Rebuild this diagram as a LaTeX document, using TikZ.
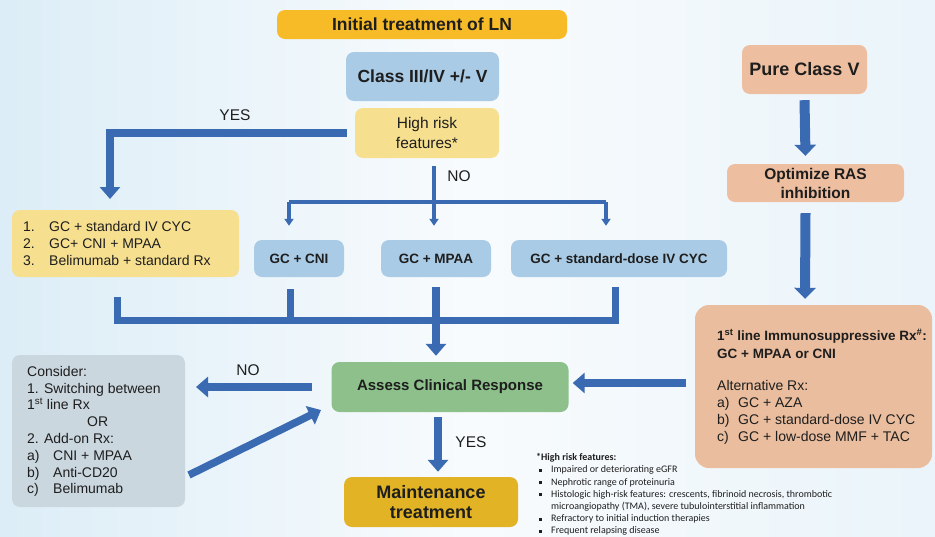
\documentclass[tikz,border=0pt]{standalone}
\usepackage{fontspec}
\setmainfont{Liberation Sans}
\newfontfamily\carlito{Carlito}
\usetikzlibrary{arrows.meta}
\definecolor{ablue}{HTML}{3A6AB2}
\definecolor{titleY}{HTML}{F8BB28}
\definecolor{lblue}{HTML}{A9CBE5}
\definecolor{paleY}{HTML}{F6E08F}
\definecolor{salmon}{HTML}{EDBE9F}
\definecolor{salmonB}{HTML}{E9BD9E}
\definecolor{greenB}{HTML}{8DC08B}
\definecolor{goldB}{HTML}{E2B325}
\definecolor{grayB}{HTML}{C8D5DD}
\definecolor{txt}{HTML}{1E1E1E}
\definecolor{bgL}{HTML}{DCEDF7}
\definecolor{bgM}{HTML}{F8FBFD}
\definecolor{bgR}{HTML}{EAF4FA}
\newcommand\fnb{\makebox[15pt][l]{\hspace*{2.5pt}\raisebox{0.8pt}{\rule{3pt}{3pt}}}}
\begin{document}
\begin{tikzpicture}[x=1pt,y=-1pt,
  box/.style={rounded corners=8pt, inner sep=0pt, align=center, text=txt},
  fat/.style={draw=ablue, line width=7.5pt, -{Triangle[width=20pt,length=12pt]}},
  fatw/.style={draw=ablue, line width=10pt, -{Triangle[width=21pt,length=11pt]}},
  fatl/.style={draw=ablue, line width=7pt},
  thinl/.style={draw=ablue, line width=3.5pt},
  thinar/.style={draw=ablue, line width=3.5pt, -{Triangle[width=9pt,length=7pt]}},
  lbl/.style={text=txt, inner sep=0pt, font=\fontsize{15.5}{18}\selectfont}]
\useasboundingbox (0,0) rectangle (935,536);
\shade[left color=bgL, right color=bgM] (0,0) rectangle (470,536);
\shade[left color=bgM, right color=bgR] (470,0) rectangle (935,536);

% boxes
\node[box, fill=titleY, minimum width=290, minimum height=29, font=\bfseries\fontsize{17.5}{20}\selectfont] (title) at (422,24.5) {Initial treatment of LN};
\node[box, fill=lblue, minimum width=153, minimum height=49, font=\bfseries\fontsize{17.5}{20}\selectfont] (cls) at (422.5,76.5) {Class III/IV +/- V};
\node[box, fill=paleY, minimum width=144, minimum height=50, font=\fontsize{15.5}{20}\selectfont] (hr) at (427,133) {High risk\\features*};
\node[box, fill=salmon, minimum width=125, minimum height=49, font=\bfseries\fontsize{18}{21}\selectfont] (pv) at (804.5,69.5) {Pure Class V};
\node[box, fill=salmon, minimum width=177, minimum height=38, font=\bfseries\fontsize{15.5}{19}\selectfont] (ras) at (815.5,183) {Optimize RAS\\inhibition};
\node[box, fill=paleY, minimum width=227, minimum height=67] (list) at (125.5,243.5) {};
\node[anchor=west, align=left, inner sep=0pt, text=txt, font=\fontsize{14}{16.6}\selectfont] (listtxt) at (23,243.5)
  {\makebox[26pt][l]{1.}GC + standard IV CYC\\\makebox[26pt][l]{2.}GC+ CNI + MPAA\\\makebox[26pt][l]{3.}Belimumab + standard Rx};
\node[box, fill=lblue, minimum width=90, minimum height=37, font=\bfseries\fontsize{13.5}{16}\selectfont] (cni) at (299,258.5) {GC + CNI};
\node[box, fill=lblue, minimum width=110, minimum height=37, font=\bfseries\fontsize{13.5}{16}\selectfont] (mpaa) at (436,258.5) {GC + MPAA};
\node[box, fill=lblue, minimum width=216, minimum height=37, font=\bfseries\fontsize{13.5}{16}\selectfont] (std) at (619,258.5) {GC + standard-dose IV CYC};
\node[box, fill=greenB, minimum width=237, minimum height=50, font=\bfseries\fontsize{15}{18}\selectfont] (assess) at (450,387) {Assess Clinical Response};
\node[box, fill=goldB, minimum width=174, minimum height=50, font=\bfseries\fontsize{18}{20.5}\selectfont] (maint) at (431,502) {Maintenance\\treatment};
\node[box, fill=grayB, fill opacity=0.9, minimum width=173, minimum height=152] (gray) at (98.5,431) {};
\node[anchor=west, align=left, inner sep=0pt, text=txt, font=\fontsize{14}{16.8}\selectfont] (graytxt) at (27,431.5)
  {Consider:\\1. Switching between\\1\textsuperscript{st} line Rx\\\hspace*{60pt}OR\\2. Add-on Rx:\\
   \makebox[26pt][l]{a)}CNI + MPAA\\\makebox[26pt][l]{b)}Anti-CD20\\\makebox[26pt][l]{c)}Belimumab};
\node[box, fill=salmonB, minimum width=237, minimum height=163, rounded corners=14pt] (orange) at (813.5,386.5) {};
\node[anchor=west, align=left, inner sep=0pt, text=txt, font=\bfseries\fontsize{13.5}{18}\selectfont] (oratxt1) at (717,344)
  {1\textsuperscript{st} line Immunosuppressive Rx\textsuperscript{\#}:\\GC + MPAA or CNI};
\node[anchor=west, align=left, inner sep=0pt, text=txt, font=\fontsize{14}{16.8}\selectfont] (oratxt2) at (717,412.5)
  {Alternative Rx:\\\makebox[21pt][l]{a)}GC + AZA\\\makebox[21pt][l]{b)}GC + standard-dose IV CYC\\\makebox[21pt][l]{c)}GC + low-dose MMF + TAC};
\node[anchor=west, align=left, inner sep=0pt, text=txt, font=\carlito\fontsize{10}{12.15}\selectfont] (fn) at (536,494.5)
  {\textbf{*High risk features:}\\
   \fnb Impaired or deteriorating eGFR\\
   \fnb Nephrotic range of proteinuria\\
   \fnb Histologic high-risk features: crescents, fibrinoid necrosis, thrombotic\\
   \hspace*{15pt}microangiopathy (TMA), severe tubulointerstitial inflammation\\
   \fnb Refractory to initial induction therapies\\
   \fnb Frequent relapsing disease};

% labels
\node[lbl] (yes1) at (235,115) {YES};
\node[lbl] (no1) at (459,176) {NO};
\node[lbl] (no2) at (248,370) {NO};
\node[lbl] (yes2) at (471,442) {YES};

% coordinates
\coordinate (yesT) at (110,199);
\coordinate (brL) at (289,202);
\coordinate (brM) at (434,202);
\coordinate (brR) at (606,202);
\coordinate (mgL) at (117.5,320);
\coordinate (mgR) at (615,320);
\coordinate (mgC) at (290,320);
\coordinate (noTip) at (196,387);
\coordinate (dgT) at (189,475);
\coordinate (dgH) at (321,410);

% connectors
\draw[fat] ([xshift=-8pt]hr.west) -| (yesT);
\draw[thinl] ([xshift=7pt,yshift=-8pt]hr.south) -- (brM);
\draw[thinl] (brL) -- (brR);
\draw[thinar] (brL) -- ([xshift=-10pt,yshift=14pt]cni.north);
\draw[thinar] (brM) -- ([xshift=-2pt,yshift=14pt]mpaa.north);
\draw[thinar] (brR) -- ([xshift=-13pt,yshift=14pt]std.north);
\draw[fatl] ([xshift=-8pt,yshift=-20pt]list.south) -- (mgL) -- (mgR) -- ([xshift=-4pt,yshift=-10pt]std.south);
\draw[fatl] ([xshift=-9pt,yshift=-12pt]cni.south) -- (mgC);
\draw[fat] ([yshift=-10pt]mpaa.south) -- ([xshift=-14pt,yshift=6pt]assess.north);
\draw[fat] ([xshift=-19pt]assess.west) -- (noTip);
\draw[fat] (dgT) -- (dgH);
\draw[fat] ([xshift=-9pt,yshift=3.5pt]orange.west) -- ([xshift=4pt,yshift=4pt]assess.east);
\draw[fat] ([xshift=-12pt,yshift=-5pt]assess.south) -- ([xshift=7pt,yshift=5pt]maint.north);
\draw[fatw] ([yshift=-6pt]pv.south) -- ([xshift=-10pt,yshift=8pt]ras.north);
\draw[fatw] ([xshift=-10pt,yshift=-11pt]ras.south) -- ([xshift=-8.5pt,yshift=6pt]orange.north);
\end{tikzpicture}
\end{document}
